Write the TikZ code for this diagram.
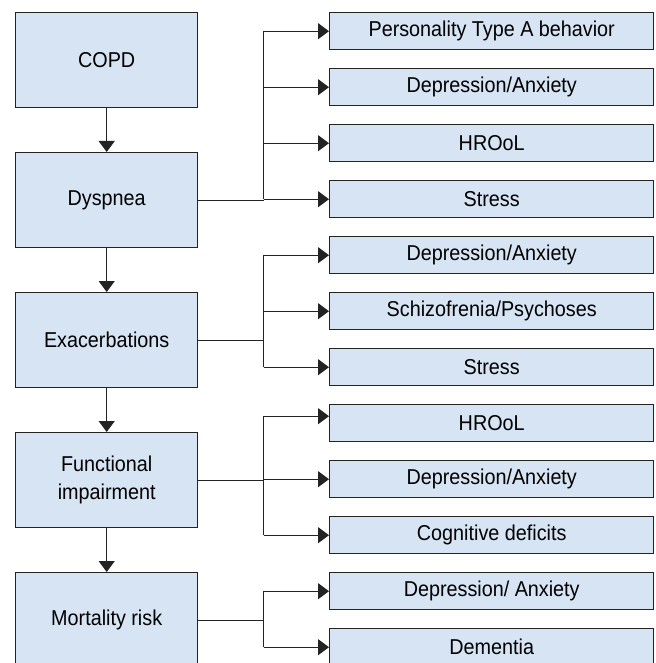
\documentclass[tikz,border=0pt]{standalone}
\usepackage{fontspec}
\setmainfont{Liberation Sans}[FakeStretch=0.92]
\usetikzlibrary{arrows.meta}
\definecolor{boxfill}{RGB}{214,228,243}
\definecolor{lineclr}{RGB}{35,35,35}
\begin{document}
\begin{tikzpicture}[x=1pt,y=-1pt,
  mainbox/.style={draw=lineclr, line width=1.4pt, fill=boxfill, minimum width=182pt, minimum height=95pt, inner sep=0pt, align=center, font=\fontsize{21.5}{28}\selectfont, anchor=north west},
  outbox/.style={draw=lineclr, line width=1.4pt, fill=boxfill, minimum width=324pt, minimum height=37pt, inner sep=0pt, font=\fontsize{21.5}{24}\selectfont, anchor=north west},
  conn/.style={draw=lineclr, line width=1.1pt},
  arr/.style={conn, -{Triangle[length=11pt,width=16pt]}}]
\clip (0,0) rectangle (655,663);
\fill[white] (0,0) rectangle (655,663);
% main column
\node[mainbox] (copd) at (15,12) {COPD};
\node[mainbox] (dys) at (15,152) {Dyspnea};
\node[mainbox] (exc) at (15,292) {Exacerbations};
\node[mainbox] (fun) at (15,432) {Functional\\impairment};
\node[mainbox] (mort) at (15,572) {Mortality risk};
% outcome column
\node[outbox] (o1) at (329,12) {Personality Type A behavior};
\node[outbox] (o2) at (329,68) {Depression/Anxiety};
\node[outbox] (o3) at (329,124) {HROoL};
\node[outbox] (o4) at (329,180) {Stress};
\node[outbox] (o5) at (329,236) {Depression/Anxiety};
\node[outbox] (o6) at (329,292) {Schizofrenia/Psychoses};
\node[outbox] (o7) at (329,348) {Stress};
\node[outbox] (o8) at (329,404) {HROoL};
\node[outbox] (o9) at (329,460) {Depression/Anxiety};
\node[outbox] (o10) at (329,516) {Cognitive deficits};
\node[outbox] (o11) at (329,572) {Depression/ Anxiety};
\node[outbox] (o12) at (329,628) {Dementia};
% vertical arrows
\draw[arr] (copd.south) -- (dys.north);
\draw[arr] (dys.south) -- (exc.north);
\draw[arr] (exc.south) -- (fun.north);
\draw[arr] (fun.south) -- (mort.north);
% branch column
\coordinate (v) at (263.5,0);
% Dyspnea group
\draw[conn] (dys.east) -- (v |- dys.east);
\draw[arr] (v |- o4.west) |- (o1.west);
\draw[arr] (v |- o2.west) -- (o2.west);
\draw[arr] (v |- o3.west) -- (o3.west);
\draw[arr] (v |- o4.west) -- (o4.west);
% Exacerbations group
\draw[conn] (exc.east) -- (v |- exc.east);
\draw[arr] (v |- o7.west) |- (o5.west);
\draw[arr] (v |- o6.west) -- (o6.west);
\draw[arr] (v |- o7.west) -- (o7.west);
% Functional group
\coordinate (o8in) at ([yshift=7pt]o8.west);
\draw[conn] (fun.east) -- (v |- fun.east);
\draw[arr] (v |- o10.west) |- (o8in);
\draw[arr] (v |- o9.west) -- (o9.west);
\draw[arr] (v |- o10.west) -- (o10.west);
% Mortality group
\draw[conn] (mort.east) -- (v |- mort.east);
\draw[arr] (v |- o12.west) |- (o11.west);
\draw[arr] (v |- o12.west) -- (o12.west);
\end{tikzpicture}
\end{document}
